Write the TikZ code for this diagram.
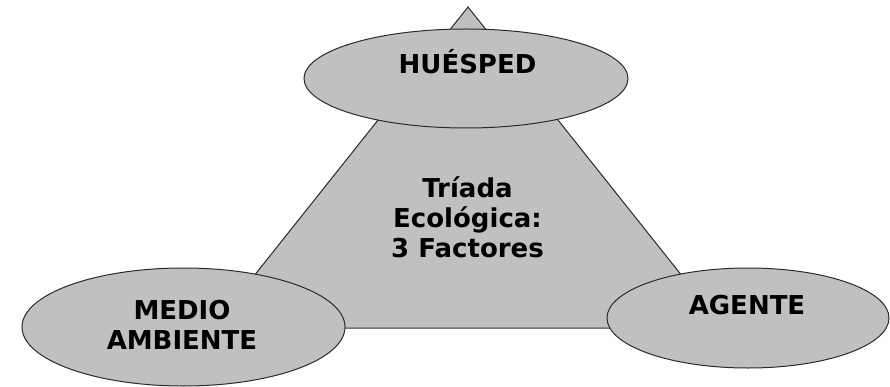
\documentclass[tikz,border=0pt]{standalone}
\usepackage{fontspec}
\setmainfont{DejaVu Sans}
\usetikzlibrary{shapes.geometric}
\definecolor{fillgray}{HTML}{C0C0C0}
\definecolor{edgegray}{HTML}{2A2A2A}
\begin{document}
\begin{tikzpicture}[x=1pt,y=-1pt,
  shapefill/.style={fill=fillgray,draw=edgegray,line width=1pt},
  oval/.style={shapefill,ellipse,inner sep=0pt},
  label/.style={font=\bfseries\fontsize{26}{30}\selectfont,text=black,
    inner sep=0pt,align=center,anchor=base}]
  \useasboundingbox (0,0) rectangle (890,387);

  % central triangle
  \coordinate (apex) at (468,7);
  \coordinate (baseL) at (212.5,328);
  \coordinate (baseR) at (723.5,328);
  \draw[shapefill,line join=miter] (apex) -- (baseR) -- (baseL) -- cycle;

  % the three factors
  \node[oval,minimum width=324pt,minimum height=99pt] (host) at (466,78.5) {};
  \node[oval,minimum width=323pt,minimum height=118pt] (env) at (183.5,327) {};
  \node[oval,minimum width=282pt,minimum height=100pt] (agent) at (748,318) {};

  % texts (base anchor sits on the last line's baseline)
  \node[label] (hostT) at (467.5,74) {HUÉSPED};
  \node[label] (envT) at (182,349) {MEDIO\\AMBIENTE};
  \node[label] (agentT) at (747,314) {AGENTE};
  \node[label] (triadT) at (467.5,257) {Tríada\\Ecológica:\\3 Factores};
\end{tikzpicture}
\end{document}
